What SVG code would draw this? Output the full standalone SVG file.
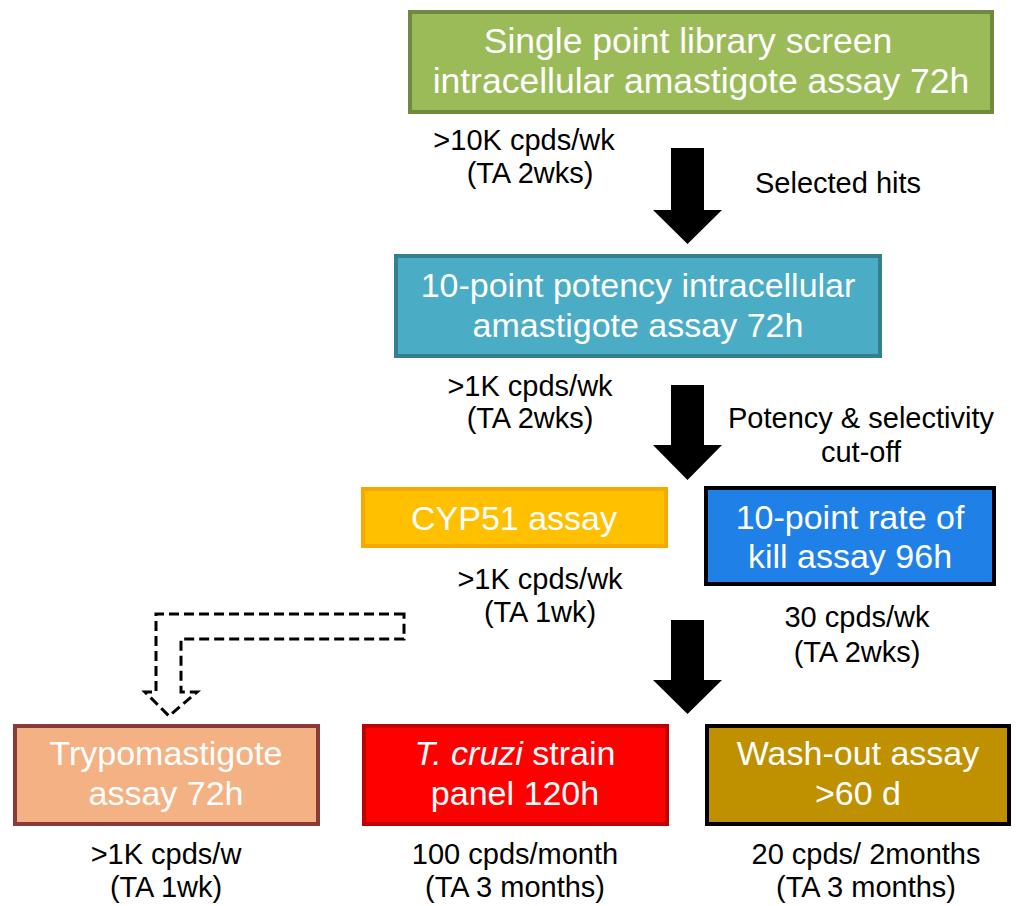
<svg xmlns="http://www.w3.org/2000/svg" width="1016" height="906" viewBox="0 0 1016 906">
<style>
.bt{font-family:"Liberation Sans",Arial,sans-serif;font-size:34px;fill:#fff;text-anchor:middle}
.bt.big{font-size:35.5px}
.lb{font-family:"Liberation Sans",Arial,sans-serif;font-size:29px;fill:#000;text-anchor:middle}
.box{stroke-width:4}
.arrow{fill:#000}
.dash{fill:none;stroke:#000;stroke-width:3;stroke-dasharray:10 5}
</style>
<rect width="1016" height="906" fill="#fff"/>
<g id="connectors">
<path class="arrow" d="M671,148 H704 V210 H722 L687.5,244 L653,210 H671 Z"/>
<path class="arrow" d="M671,385 H704 V445 H722 L687.5,480 L653,445 H671 Z"/>
<path class="arrow" d="M671,620 H704 V680 H722 L687.5,714 L653,680 H671 Z"/>
<path class="dash" d="M404,614 H156 V692 H145 L169,716 L197,692 H181 V639 H404 Z"/>
</g>
<g id="n-screen">
<rect class="box" x="410" y="12" width="582" height="100" fill="#9BBB59" stroke="#71893F"/>
<text class="bt big" x="688" y="53">Single point library screen</text>
<text class="bt big" x="701" y="93">intracellular amastigote assay 72h</text>
</g>
<g id="l-screen">
<text class="lb" x="524" y="150">&gt;10K cpds/wk</text>
<text class="lb" x="530" y="183">(TA 2wks)</text>
<text class="lb" x="838" y="193">Selected hits</text>
</g>
<g id="n-potency">
<rect class="box" x="396" y="256" width="484" height="100" fill="#4BACC6" stroke="#357D91"/>
<text class="bt" x="638" y="297">10-point potency intracellular</text>
<text class="bt" x="638" y="337">amastigote assay 72h</text>
</g>
<g id="l-potency">
<text class="lb" x="530" y="396">&gt;1K cpds/wk</text>
<text class="lb" x="530" y="428">(TA 2wks)</text>
<text class="lb" x="861" y="428">Potency &amp; selectivity</text>
<text class="lb" x="861" y="462">cut-off</text>
</g>
<g id="n-cyp51">
<rect class="box" x="363" y="489" width="303" height="57" fill="#FFC000" stroke="#F5A800"/>
<text class="bt" x="514" y="530">CYP51 assay</text>
<text class="lb" x="540" y="589">&gt;1K cpds/wk</text>
<text class="lb" x="540" y="622">(TA 1wk)</text>
</g>
<g id="n-kill">
<rect class="box" x="706" y="488" width="288" height="96" fill="#1F80E8" stroke="#000"/>
<text class="bt" x="850" y="529">10-point rate of</text>
<text class="bt" x="850" y="568">kill assay 96h</text>
<text class="lb" x="857" y="627">30 cpds/wk</text>
<text class="lb" x="857" y="662">(TA 2wks)</text>
</g>
<g id="n-trypo">
<rect class="box" x="15" y="726" width="303" height="98" fill="#F4B183" stroke="#8B3A3A"/>
<text class="bt" x="166" y="765">Trypomastigote</text>
<text class="bt" x="166" y="805">assay 72h</text>
<text class="lb" x="166" y="864">&gt;1K cpds/w</text>
<text class="lb" x="166" y="897">(TA 1wk)</text>
</g>
<g id="n-strain">
<rect class="box" x="364" y="726" width="303" height="98" fill="#FF0000" stroke="#C00000"/>
<text class="bt" x="515" y="765"><tspan font-style="italic">T. cruzi</tspan> strain</text>
<text class="bt" x="515" y="805">panel 120h</text>
<text class="lb" x="515" y="864">100 cpds/month</text>
<text class="lb" x="515" y="897">(TA 3 months)</text>
</g>
<g id="n-washout">
<rect class="box" x="707" y="726" width="302" height="98" fill="#BF9000" stroke="#000"/>
<text class="bt" x="858" y="765">Wash-out assay</text>
<text class="bt" x="858" y="805">&gt;60 d</text>
<text class="lb" x="866" y="864">20 cpds/ 2months</text>
<text class="lb" x="866" y="897">(TA 3 months)</text>
</g>
</svg>
